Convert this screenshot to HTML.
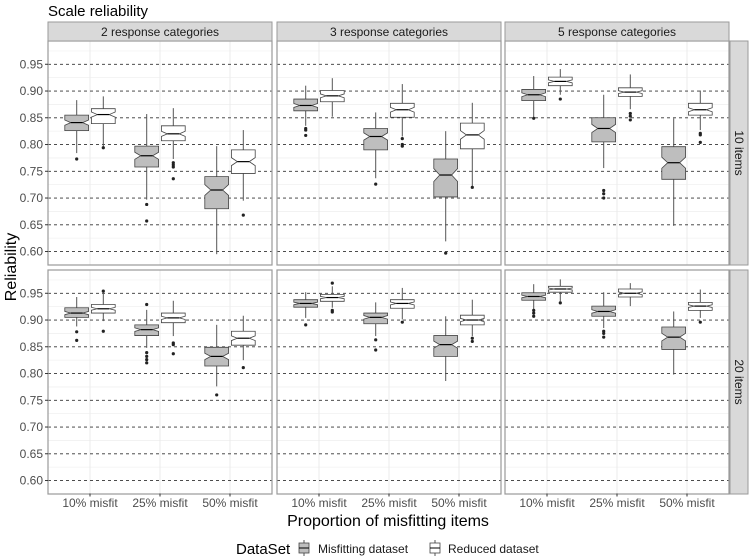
<!DOCTYPE html>
<html><head><meta charset="utf-8"><style>
body{margin:0;background:#fff}
svg{display:block;font-family:"Liberation Sans",sans-serif}
</style></head><body>
<svg id="chart" width="750" height="557" viewBox="0 0 750 557" xmlns="http://www.w3.org/2000/svg">
<text x="48" y="16" font-size="15" fill="#000">Scale reliability</text>
<text transform="translate(16,267) rotate(-90)" text-anchor="middle" font-size="16" fill="#000">Reliability</text>
<text x="388" y="526" text-anchor="middle" font-size="16" fill="#000">Proportion of misfitting items</text>
<g id="plot"></g>
<g>
<text x="236" y="554" font-size="15" fill="#000">DataSet</text>
<g>
<line x1="304" y1="540" x2="304" y2="556" stroke="#555" stroke-width="1"/>
<rect x="299" y="543" width="10" height="10" fill="#bebebe" stroke="#444" stroke-width="0.8"/>
<line x1="299" y1="548" x2="309" y2="548" stroke="#000" stroke-width="1"/>
<text x="318" y="553" font-size="12" fill="#1a1a1a">Misfitting dataset</text>
</g>
<g>
<line x1="435" y1="540" x2="435" y2="556" stroke="#555" stroke-width="1"/>
<rect x="430" y="543" width="10" height="10" fill="#fff" stroke="#444" stroke-width="0.8"/>
<line x1="430" y1="548" x2="440" y2="548" stroke="#000" stroke-width="1"/>
<text x="448" y="553" font-size="12" fill="#1a1a1a">Reduced dataset</text>
</g>
</g>
</svg>
<script>
// facets: index = row*3 + col
const colLabels = ["2 response categories","3 response categories","5 response categories"];
const rowLabels = ["10 items","20 items"];
const categories = ["10% misfit","25% misfit","50% misfit"];
const datasets = ["Misfitting dataset","Reduced dataset"];
const yTicks = [0.60,0.65,0.70,0.75,0.80,0.85,0.90,0.95];
const yTickLabels = ["0.60","0.65","0.70","0.75","0.80","0.85","0.90","0.95"];
// [facet][category][dataset]
const whiskerHigh = [
 [[0.883,0.890],[0.857,0.868],[0.797,0.827]],
 [[0.910,0.924],[0.860,0.913],[0.825,0.878]],
 [[0.928,0.941],[0.893,0.931],[0.849,0.901]],
 [[0.943,0.951],[0.919,0.936],[0.891,0.908]],
 [[0.952,0.963],[0.933,0.960],[0.907,0.938]],
 [[0.967,0.976],[0.952,0.969],[0.916,0.957]]
];
const q3s = [
 [[0.855,0.867],[0.797,0.835],[0.740,0.790]],
 [[0.885,0.901],[0.830,0.877],[0.773,0.840]],
 [[0.903,0.926],[0.850,0.906],[0.796,0.877]],
 [[0.923,0.929],[0.891,0.913],[0.849,0.879]],
 [[0.938,0.948],[0.913,0.938],[0.871,0.909]],
 [[0.951,0.963],[0.926,0.958],[0.887,0.933]]
];
const medians = [
 [[0.841,0.856],[0.779,0.820],[0.715,0.768]],
 [[0.873,0.891],[0.815,0.865],[0.743,0.818]],
 [[0.893,0.918],[0.830,0.898],[0.766,0.865]],
 [[0.913,0.921],[0.882,0.904],[0.832,0.866]],
 [[0.931,0.942],[0.905,0.931],[0.854,0.900]],
 [[0.944,0.958],[0.916,0.950],[0.868,0.926]]
];
const q1s = [
 [[0.826,0.839],[0.758,0.807],[0.680,0.746]],
 [[0.863,0.880],[0.790,0.851],[0.702,0.792]],
 [[0.882,0.910],[0.805,0.890],[0.735,0.855]],
 [[0.905,0.913],[0.871,0.895],[0.814,0.853]],
 [[0.924,0.935],[0.893,0.922],[0.832,0.891]],
 [[0.937,0.952],[0.907,0.943],[0.845,0.918]]
];
const whiskerLow = [
 [[0.784,0.794],[0.697,0.773],[0.595,0.695]],
 [[0.835,0.852],[0.737,0.815],[0.619,0.721]],
 [[0.849,0.893],[0.756,0.866],[0.648,0.827]],
 [[0.888,0.898],[0.848,0.870],[0.776,0.825]],
 [[0.904,0.923],[0.870,0.901],[0.786,0.870]],
 [[0.919,0.935],[0.885,0.926],[0.798,0.904]]
];
const outliers = [
 [[[0.773],[0.794]],[[0.688,0.657],[0.766,0.762,0.758,0.736]],[[],[0.668]]],
 [[[0.830,0.827,0.817],[]],[[0.726],[0.811,0.800,0.797]],[[0.597],[0.720]]],
 [[[0.849],[0.885]],[[0.714,0.708,0.700],[0.858,0.853,0.846]],[[],[0.821,0.818,0.804]]],
 [[[0.878,0.862],[0.954,0.879]],[[0.929,0.839,0.832,0.826,0.820],[0.857,0.854,0.837]],[[0.760],[0.811]]],
 [[[0.891],[0.969,0.918,0.915]],[[0.863,0.844],[0.896]],[[],[0.866,0.860]]],
 [[[0.918,0.913,0.907],[0.932]],[[0.879,0.875,0.868],[]],[[],[0.896]]]
];

const NS="http://www.w3.org/2000/svg";
const plot=document.getElementById('plot');
const panelX=[48,277,505], panelW=224, panelTop=[41,270], panelH=224;
const yMax=0.9935, pxPerUnit=535, catStep=70;
function yS(row,v){return panelTop[row]+(yMax-v)*pxPerUnit;}
function xS(col,i){return panelX[col]+(0.6+i)*catStep;}
function mk(tag,attrs,parent){const e=document.createElementNS(NS,tag);for(const k in attrs)e.setAttribute(k,attrs[k]);(parent||plot).appendChild(e);return e;}

for(let r=0;r<2;r++){
  for(let c=0;c<3;c++){
    const f=r*3+c;
    const g=mk('g',{});
    
    
    mk('rect',{x:panelX[c],y:panelTop[r],width:panelW,height:panelH,fill:'#fff'},g);
    // minor grid
    yTicks.forEach(t=>{[t-0.025,t+0.025].forEach(m=>{const y=yS(r,m);if(y>panelTop[r]&&y<panelTop[r]+panelH)mk('line',{x1:panelX[c],x2:panelX[c]+panelW,y1:y,y2:y,stroke:'#f0f0f0','stroke-width':0.6},g);});});
    categories.forEach((cat,i)=>{const x=xS(c,i);mk('line',{x1:x,x2:x,y1:panelTop[r],y2:panelTop[r]+panelH,stroke:'#ebebeb','stroke-width':1},g);});
    yTicks.forEach((t,ti)=>{const y=yS(r,t);
      const l=mk('line',{x1:panelX[c],x2:panelX[c]+panelW,y1:y,y2:y,stroke:'#333','stroke-width':0.9,'stroke-dasharray':'3,3'},g);
      
      
    });
    // boxes
    categories.forEach((cat,i)=>{
      datasets.forEach((ds,d)=>{
        const cx=xS(c,i)+(d===0?-0.19:0.19)*catStep;
        const hw=0.17*catStep;
        const lo=whiskerLow[f][i][d],a=q1s[f][i][d],m=medians[f][i][d],b=q3s[f][i][d],hi=whiskerHigh[f][i][d];
        const bg=mk('g',{},g);
        
        
        mk('line',{x1:cx,x2:cx,y1:yS(r,hi),y2:yS(r,b),stroke:'#555','stroke-width':1},bg);
        mk('line',{x1:cx,x2:cx,y1:yS(r,a),y2:yS(r,lo),stroke:'#555','stroke-width':1},bg);
        const n=0.17*(b-a);
        const nt=Math.min(m+n,b),nb=Math.max(m-n,a);
        const pts=[[cx-hw,yS(r,b)],[cx+hw,yS(r,b)],[cx+hw,yS(r,nt)],[cx+hw/2,yS(r,m)],[cx+hw,yS(r,nb)],[cx+hw,yS(r,a)],[cx-hw,yS(r,a)],[cx-hw,yS(r,nb)],[cx-hw/2,yS(r,m)],[cx-hw,yS(r,nt)]];
        mk('polygon',{points:pts.map(p=>p.join(',')).join(' '),fill:d===0?'#bebebe':'#fff',stroke:'#444','stroke-width':0.8},bg);
        mk('line',{x1:cx-hw/2,x2:cx+hw/2,y1:yS(r,m),y2:yS(r,m),stroke:'#000','stroke-width':1.2},bg);
        outliers[f][i][d].forEach(o=>{
          const p=mk('circle',{cx:cx,cy:yS(r,o),r:1.6,fill:'#222'},bg);
          
          
        });
      });
    });
    mk('rect',{x:panelX[c],y:panelTop[r],width:panelW,height:panelH,fill:'none',stroke:'#9a9a9a','stroke-width':1.2},g);
  }
  // y tick labels
  yTicks.forEach((t,ti)=>{const y=yS(r,t);
    mk('line',{x1:45,x2:48,y1:y,y2:y,stroke:'#333','stroke-width':1});
    const tx=mk('text',{x:43,y:y+4,'text-anchor':'end','font-size':12,fill:'#4d4d4d'});
    tx.textContent=yTickLabels[ti];
    
    
  });
  // right strip
  const rs=mk('g',{});
  
  
  mk('rect',{x:730,y:panelTop[r],width:18,height:panelH,fill:'#d9d9d9',stroke:'#9a9a9a','stroke-width':1},rs);
  const rt=mk('text',{transform:'translate(735,'+(panelTop[r]+panelH/2)+') rotate(90)','text-anchor':'middle','font-size':12,fill:'#1a1a1a'},rs);
  rt.textContent=rowLabels[r];
}
for(let c=0;c<3;c++){
  const s=mk('g',{});
  
  
  mk('rect',{x:panelX[c],y:22,width:panelW,height:19,fill:'#d9d9d9',stroke:'#9a9a9a','stroke-width':1},s);
  const t=mk('text',{x:panelX[c]+panelW/2,y:36,'text-anchor':'middle','font-size':12,fill:'#1a1a1a'},s);
  t.textContent=colLabels[c];
  categories.forEach((cat,i)=>{
    const x=xS(c,i);
    mk('line',{x1:x,x2:x,y1:493.5,y2:496.5,stroke:'#333','stroke-width':1});
    const tl=mk('text',{x:x,y:507,'text-anchor':'middle','font-size':12,fill:'#4d4d4d'});
    tl.textContent=cat;
    
    
  });
}
</script>
</body></html>
